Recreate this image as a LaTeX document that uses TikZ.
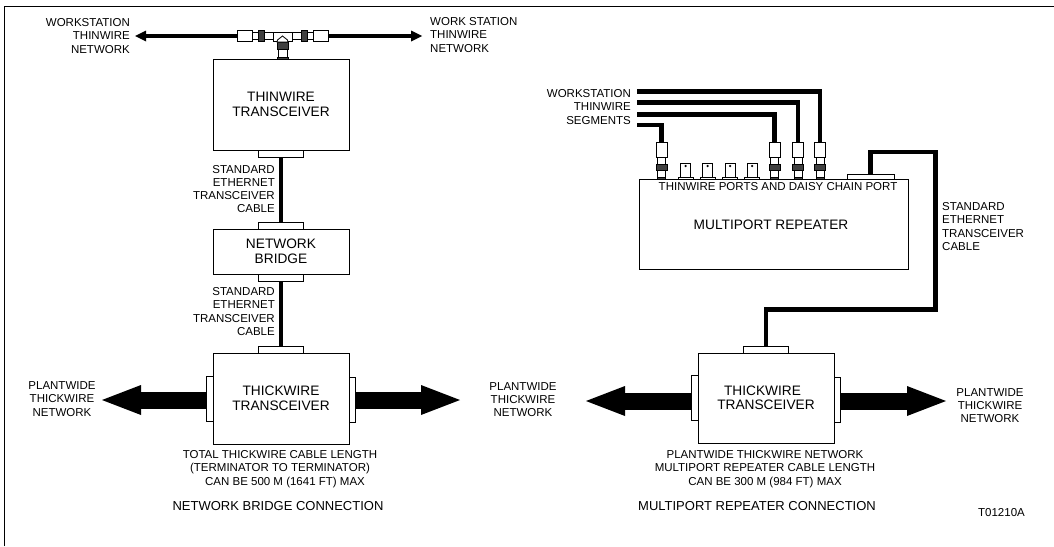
\documentclass[tikz,border=0pt]{standalone}
\usepackage{fontspec}
\setmainfont{Liberation Sans}
\usetikzlibrary{arrows.meta,positioning}

\begin{document}
\begin{tikzpicture}[
        x=1pt, y=-1pt,
        node distance=0pt,
        unitbox/.style={
          draw,
          fill=white,
          line width=1pt,
          inner sep=0pt,
          outer sep=0pt,
          minimum width=136pt,
          align=center,
          font=\fontsize{13.7}{15}\selectfont
        },
        porthoriz/.style={
          draw,
          fill=white,
          line width=0.9pt,
          inner sep=0pt,
          outer sep=0pt,
          minimum width=45pt,
          minimum height=7pt
        },
        portvert/.style={
          porthoriz,
          minimum width=6.5pt,
          minimum height=45pt
        },
        part/.style={
          draw,
          fill=white,
          line width=0.8pt,
          inner sep=0pt,
          outer sep=0pt
        },
        nut/.style={
          part,
          fill=black!75
        },
        cable/.style={
          line width=4.6pt,
          line cap=butt,
          miter limit=10
        },
        thinarrow/.style={
          line width=3.6pt,
          -{Triangle[length=11pt,width=11pt,line width=0pt]}
        },
        bigarrow/.style={
          line width=17pt,
          -{Triangle[length=39pt,width=30pt,line width=0pt]}
        },
        lbl/.style={
          inner sep=0pt,
          font=\fontsize{11.5}{13.2}\selectfont,
          align=center
        },
        lblright/.style={lbl, align=right},
        lblleft/.style={lbl, align=left},
        heading/.style={
          inner sep=0pt,
          font=\fontsize{13}{15}\selectfont
        }
      ]

      \useasboundingbox (0,0) rectangle (1054,546);
      \draw[line width=1pt] (4.5,546) -- (4.5,6) -- (1054,6);

      % network bridge side
      \node[unitbox, minimum height=91pt] (thinbox) at (281,104.5) {THINWIRE\\TRANSCEIVER};
      \node[unitbox, minimum height=45pt] (bridge) at (281,251.5) {NETWORK\\BRIDGE};
      \node[unitbox, minimum height=91pt] (thickbox) at (281,398.5) {THICKWIRE\\TRANSCEIVER};

      \node[porthoriz, below=of thinbox] (thinport) {};
      \node[porthoriz, above=of bridge] (bridgetop) {};
      \node[porthoriz, below=of bridge] (bridgebot) {};
      \node[porthoriz, above=of thickbox] (thicktop) {};
      \node[portvert, left=of thickbox] (thickleft) {};
      \node[portvert, right=of thickbox, yshift=-1.5pt] (thickright) {};

      \draw[cable] (thinport) -- (bridgetop);
      \draw[cable] (bridgebot) -- (thicktop);

      \coordinate (leftend) at (102,400);
      \coordinate (rightend) at (460,400);
      \draw[bigarrow] (thickleft.west |- leftend) -- (leftend);
      \draw[bigarrow] (thickright.east |- rightend) -- (rightend);

      % tee on the thinwire line
      \coordinate (teeleft) at (135,36);
      \coordinate (teeright) at (422,36);
      \node[part, minimum width=15pt, minimum height=11pt] (capleft) at (244.5,36) {};
      \node[part, minimum width=15pt, minimum height=11pt] (capright) at (320.5,36) {};
      \node[part, minimum width=21pt, minimum height=7pt] (neckleft) at (262.5,36) {};
      \node[part, minimum width=21pt, minimum height=7pt] (neckright) at (302.5,36) {};
      \node[nut, minimum width=6pt, minimum height=11pt] (nutleft) at (261,36) {};
      \node[nut, minimum width=6pt, minimum height=11pt] (nutright) at (304,36) {};
      \node[part, minimum width=19pt, minimum height=9pt] (teebody) at (282.5,36.5) {};
      \node[part, minimum width=9pt, minimum height=8pt] (teestem) at (282.5,53) {};
      \node[nut, minimum width=11pt, minimum height=7pt] (teenut) at (282.5,45.5) {};
      \node[nut, minimum width=11pt, minimum height=2pt] (teebase) at (282.5,58) {};
      \draw[part] (277,42) -- (277.5,40) -- (282.5,36) -- (287.5,40) -- (288,42) -- cycle;

      \draw[thinarrow] (capleft) -- (teeleft);
      \draw[thinarrow] (capright) -- (teeright);

      \node[lblright, anchor=east] (wsleft) at (130,36) {WORKSTATION\\THINWIRE\\NETWORK};
      \node[lblleft, anchor=west] (wsright) at (430,35) {WORK STATION\\THINWIRE\\NETWORK};
      \node[lblright, anchor=east] (stdupper) at (275,189) {STANDARD\\ETHERNET\\TRANSCEIVER\\CABLE};
      \node[lblright, anchor=east] (stdlower) at (275,311.5) {STANDARD\\ETHERNET\\TRANSCEIVER\\CABLE};
      \node[lbl] (plantleft) at (62,399) {PLANTWIDE\\THICKWIRE\\NETWORK};
      \node[lbl] (totallen) at (280,469) {TOTAL THICKWIRE CABLE LENGTH\\(TERMINATOR TO TERMINATOR)\\\hspace*{10pt}CAN BE 500 M (1641 FT) MAX};
      \node[heading] (bridgetitle) at (278,506) {NETWORK BRIDGE CONNECTION};

      % multiport repeater side
      \node[unitbox, minimum width=269pt, minimum height=90pt] (repeater) at (773.5,224.5) {};
      \node[font=\fontsize{13.7}{15}\selectfont, inner sep=0pt] (reptext) at (771,225) {MULTIPORT REPEATER};
      \node[lbl] (porttext) at (778,187) {THINWIRE PORTS AND DAISY CHAIN PORT};
      \node[porthoriz, minimum width=47pt, minimum height=5.5pt, anchor=south] (daisy) at (870.5,179.5) {};

      \node[unitbox, minimum height=90pt] (repthick) at (766,398) {\hspace*{-7pt}THICKWIRE\\[-1pt]TRANSCEIVER};
      \node[porthoriz, above=of repthick] (repthicktop) {};
      \node[portvert, left=of repthick] (repleft) {};
      \node[portvert, right=of repthick, yshift=-2pt] (repright) {};

      \coordinate (repleftend) at (586,401);
      \coordinate (reprightend) at (946,401);
      \draw[bigarrow] (repleft.west |- repleftend) -- (repleftend);
      \draw[bigarrow] (repright.east |- reprightend) -- (reprightend);

      \foreach \px/\nm in {661.5/a,774.5/b,798/c,820/d} {
        \node[part, minimum width=8pt, minimum height=20pt] (neck\nm) at (\px,167) {};
        \node[nut, minimum width=11pt, minimum height=6pt] (nut\nm) at (\px,167) {};
        \node[nut, minimum width=8pt, minimum height=2.5pt] (base\nm) at (\px,178.2) {};
        \node[part, minimum width=11pt, minimum height=15pt] (plug\nm) at (\px,149.5) {};
      }
      \foreach \px/\nm in {685.7/e,707.7/f,730/g,752/h} {
        \node[part, minimum width=15pt, minimum height=2.5pt] (plate\nm) at (\px,178.2) {};
        \node[part, minimum width=10pt, minimum height=14pt] (post\nm) at (\px,170) {};
        \node[fill=black, circle, inner sep=0pt, minimum size=2.5pt] (pin\nm) at (\px,166) {};
      }

      \coordinate (segd) at (637,91.5);
      \coordinate (segc) at (637,102.7);
      \coordinate (segb) at (637,114.5);
      \coordinate (sega) at (637,125);
      \draw[cable] (segd) -| (plugd.north);
      \draw[cable] (segc) -| (plugc.north);
      \draw[cable] (segb) -| (plugb.north);
      \draw[cable] (sega) -| (pluga.north);

      \coordinate (bendtop) at (935.5,152);
      \coordinate (bendlow) at (935.5,309.5);
      \draw[cable] (daisy.north) |- (bendtop) -- (bendlow) -| (repthicktop.north);

      \node[lblright, anchor=east] (seglabel) at (631,107) {WORKSTATION\\THINWIRE\\[1.5pt]SEGMENTS};
      \node[lblleft, anchor=west] (stdright) at (942,226.5) {STANDARD\\ETHERNET\\TRANSCEIVER\\CABLE};
      \node[lbl] (plantmid) at (523,399.5) {PLANTWIDE\\THICKWIRE\\NETWORK};
      \node[lbl] (plantright) at (990,405.5) {PLANTWIDE\\THICKWIRE\\NETWORK};
      \node[lbl] (replen) at (765,469) {PLANTWIDE THICKWIRE NETWORK\\MULTIPORT REPEATER CABLE LENGTH\\CAN BE 300 M (984 FT) MAX};
      \node[heading] (reptitle) at (757,506) {MULTIPORT REPEATER CONNECTION};
      \node[lbl] (drawno) at (1001.5,513) {T01210A};

      \end{tikzpicture}
\end{document}
